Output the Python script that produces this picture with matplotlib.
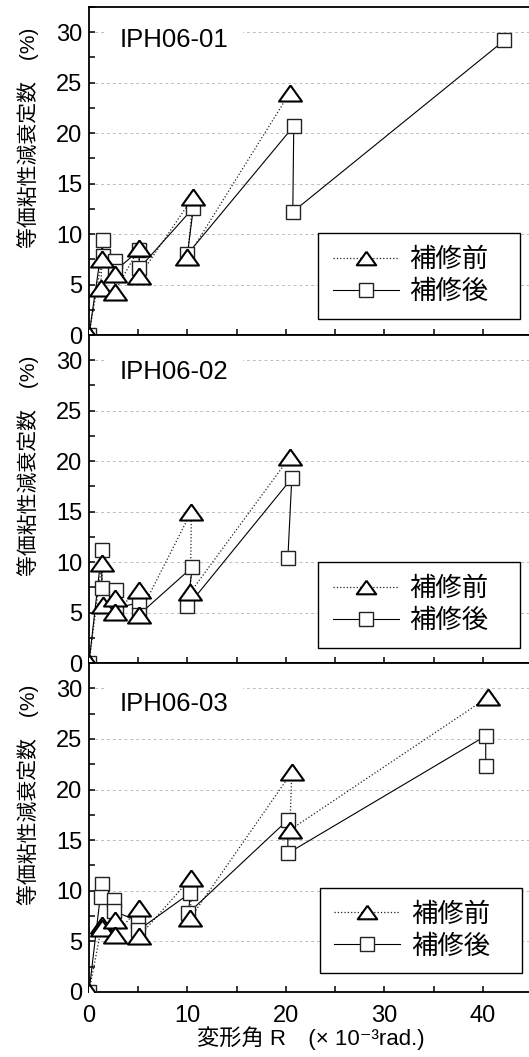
import numpy as np
import matplotlib.pyplot as plt
from matplotlib.ticker import MultipleLocator
from matplotlib.lines import Line2D

plt.rcParams['font.family'] = ['Liberation Sans', 'Noto Sans CJK JP', 'DejaVu Sans']

panel_names = ["IPH06-01", "IPH06-02", "IPH06-03"]
label_before = "補修前"
label_after = "補修後"

# 補修前 (triangles, dotted) -- drift angle R (x10^-3 rad) / damping (%)
before_x = [
    [0, 1.3, 1.2, 2.6, 2.6, 5.1, 5.1, 10.6, 10.0, 20.4],
    [0, 1.3, 1.4, 2.6, 2.6, 5.1, 5.1, 10.4, 10.3, 20.4],
    [0, 1.3, 1.3, 2.6, 2.6, 5.1, 5.1, 10.4, 10.3, 20.6, 20.4, 40.5],
]
before_y = [
    [0, 7.5, 4.7, 6.0, 4.3, 8.6, 5.8, 13.7, 7.7, 24.0],
    [0, 9.9, 5.7, 6.4, 5.1, 7.2, 4.8, 15.0, 7.0, 20.4],
    [0, 6.6, 6.3, 7.1, 5.6, 8.3, 5.5, 11.3, 7.3, 21.7, 16.0, 29.1],
]

# 補修後 (squares, solid)
after_x = [
    [0, 1.4, 1.4, 2.6, 2.6, 5.1, 5.1, 10.6, 10.0, 20.8, 20.7, 42.2],
    [0, 1.3, 1.3, 2.7, 2.7, 5.1, 5.1, 10.5, 10.0, 20.6, 20.2],
    [0, 1.3, 1.2, 2.5, 2.5, 5.0, 5.0, 10.3, 10.1, 20.2, 20.2, 40.3, 40.3],
]
after_y = [
    [0, 9.4, 7.8, 7.3, 6.3, 8.4, 6.6, 12.6, 8.0, 20.7, 12.2, 29.2],
    [0, 11.2, 7.4, 7.2, 5.4, 6.0, 4.8, 9.5, 5.6, 18.3, 10.4],
    [0, 10.7, 9.4, 9.1, 8.0, 7.0, 6.1, 9.8, 7.8, 17.0, 13.7, 25.3, 22.3],
]

W, H = 529, 1057
fig = plt.figure(figsize=(W / 100, H / 100), dpi=100)

# wide flat triangle
tri = [(0, 0.7), (-1, -0.7), (1, -0.7), (0, 0.7)]

# panel boxes in pixels (top, bottom)
boxes = [(7, 335), (335, 663), (663, 992)]
legend_pos = [(0.517, 0.049), (0.517, 0.046), (0.521, 0.057)]
name_y = [0.90, 0.887, 0.876]
left_px, right_px = 89, 532

for i in range(3):
    top, bot = boxes[i]
    ax = fig.add_axes([left_px / W, 1 - bot / H, (right_px - left_px) / W, (bot - top) / H])

    ax.plot(before_x[i], before_y[i], ls=':', lw=0.9, color='#222222', zorder=2)
    ax.plot(after_x[i], after_y[i], ls='-', lw=0.8, color='black', zorder=2)
    ax.plot(after_x[i], after_y[i], ls='none', marker='s', ms=9.5, mfc='white',
            mec='#222222', mew=1.0, zorder=3)
    ax.plot(before_x[i], before_y[i], ls='none', marker=tri, ms=16.5, mfc='white',
            mec='black', mew=1.5, zorder=4)

    ax.set_xlim(0, 45)
    ax.set_ylim(0, 32.5)
    ax.xaxis.set_major_locator(MultipleLocator(10))
    ax.xaxis.set_minor_locator(MultipleLocator(5))
    ax.yaxis.set_major_locator(MultipleLocator(5))
    ax.yaxis.set_minor_locator(MultipleLocator(2.5))
    ax.tick_params(which='both', direction='in', length=4, width=1.1, labelsize=17)
    ax.tick_params(axis='y', pad=5)
    ax.tick_params(axis='x', pad=9)
    ax.yaxis.grid(True, which='major', ls=(0, (3, 3)), lw=0.7, color='#bdbdbd', zorder=0)
    ax.set_axisbelow(True)
    for s in ax.spines.values():
        s.set_linewidth(1.3)

    if i < 2:
        ax.tick_params(axis='x', labelbottom=False)
    else:
        ax.set_xlabel("変形角 R　(× 10⁻³rad.)", fontsize=16, labelpad=0)

    ax.set_ylabel("等価粘性減衰定数　(%)", fontsize=15)
    ax.yaxis.set_label_coords(-0.112, 0.6)

    ax.text(0.07, name_y[i], panel_names[i], transform=ax.transAxes, fontsize=18.5,
            ha='left', va='center', zorder=5,
            bbox=dict(facecolor='white', edgecolor='none', pad=10))

    handles = [
        Line2D([], [], ls=':', lw=0.9, color='#222222', marker=tri, ms=14,
               mfc='white', mec='black', mew=1.5),
        Line2D([], [], ls='-', lw=0.8, color='black', marker='s', ms=9.5,
               mfc='white', mec='#222222', mew=1.0),
    ]
    lx, ly = legend_pos[i]
    leg = ax.legend(handles, [label_before, label_after], loc='lower left',
                    bbox_to_anchor=(lx, ly, 0.456, 0.25), mode='expand',
                    borderaxespad=0, fontsize=19, handlelength=2.5,
                    handletextpad=0.4, labelspacing=0.3, borderpad=0.55,
                    fancybox=False, framealpha=1, edgecolor='black')
    leg.get_frame().set_linewidth(1.0)
    leg.set_zorder(6)

fig.savefig("out.png", dpi=100)
